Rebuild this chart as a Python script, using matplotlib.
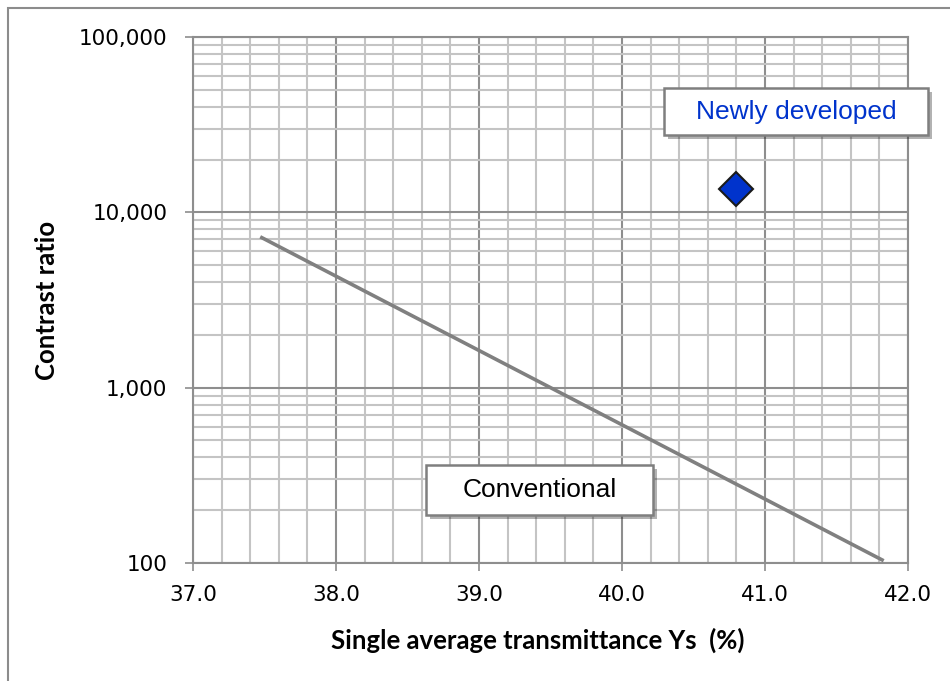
import matplotlib
matplotlib.use("Agg")
import matplotlib.pyplot as plt
import matplotlib.patches as mpatches
import matplotlib.patheffects as pe
from matplotlib.ticker import FixedLocator, FuncFormatter, LogLocator, NullFormatter

# ---- data ----
conv_x = [37.47, 41.83]
conv_y = [7250, 103]
new_x = [40.8]
new_y = [13500]
xticks = [37.0, 38.0, 39.0, 40.0, 41.0, 42.0]
yticks = [100, 1000, 10000, 100000]
label_conv = "Conventional"
label_new = "Newly developed"
xlabel = "Single average transmittance Ys  (%)"
ylabel = "Contrast ratio"

W, H = 950, 681
fig = plt.figure(figsize=(W / 100, H / 100), dpi=100)
fig.patch.set_facecolor("white")

# outer border
fig.patches.append(mpatches.Rectangle((8 / W, -0.1), 1.2, 1 - 8 / H + 0.1,
                                      transform=fig.transFigure, fill=False,
                                      edgecolor="#8c8c8c", linewidth=1.5))

L, R, T, B = 193, 908, 37, 563
ax = fig.add_axes([L / W, 1 - B / H, (R - L) / W, (B - T) / H])
ax.set_yscale("log")
ax.set_xlim(37.0, 42.0)
ax.set_ylim(100, 100000)

ax.xaxis.set_major_locator(FixedLocator(xticks))
ax.xaxis.set_minor_locator(FixedLocator([37 + 0.2 * i for i in range(26)]))
ax.yaxis.set_major_locator(FixedLocator(yticks))
ax.yaxis.set_minor_locator(LogLocator(base=10, subs=range(2, 10)))
ax.yaxis.set_minor_formatter(NullFormatter())
ax.xaxis.set_major_formatter(FuncFormatter(lambda v, p: f"{v:.1f}"))
ax.yaxis.set_major_formatter(FuncFormatter(lambda v, p: f"{int(round(v)):,}"))

ax.grid(which="minor", color="#c4c4c4", linewidth=1.5)
ax.grid(which="major", color="#8e8e8e", linewidth=1.5)
ax.set_axisbelow(True)
for s in ax.spines.values():
    s.set_color("#8e8e8e")
    s.set_linewidth(1.5)

ax.tick_params(which="major", direction="inout", length=11, width=1.2, color="#8e8e8e",
               labelsize=15.5, labelcolor="black")
ax.tick_params(axis="y", which="major", pad=13)
ax.tick_params(axis="x", which="major", pad=10)
ax.tick_params(which="minor", length=0)
for lab in ax.get_xticklabels() + ax.get_yticklabels():
    lab.set_fontfamily("DejaVu Sans")

ax.plot(conv_x, conv_y, color="#808080", linewidth=2.6, solid_capstyle="butt", zorder=3)
ax.plot(new_x, new_y, marker="D", linestyle="none", markersize=17,
        markerfacecolor="#0033cc", markeredgecolor="#1a1a1a", markeredgewidth=1.5,
        zorder=4, clip_on=False)

ax.set_xlabel(xlabel, fontfamily="Lato", fontweight="bold", fontsize=18.5)
ax.set_ylabel(ylabel, fontfamily="Lato", fontweight="bold", fontsize=18.5)
ax.xaxis.set_label_coords((538 - L) / (R - L), (B - 640) / (B - T))
ax.xaxis.label.set_verticalalignment("center")
ax.yaxis.set_label_coords((47 - L) / (R - L), 0.5)
ax.yaxis.label.set_verticalalignment("center")


def box(x0, y0, x1, y1, text, color):
    shadow = [pe.SimplePatchShadow(offset=(3, -3), shadow_rgbFace="#000000", alpha=0.3),
              pe.Normal()]
    rect = mpatches.Rectangle((x0 / W, 1 - y1 / H), (x1 - x0) / W, (y1 - y0) / H,
                              transform=fig.transFigure, facecolor="white",
                              edgecolor="#7f7f7f", linewidth=1.8, zorder=10,
                              path_effects=shadow)
    fig.patches.append(rect)
    fig.text((x0 + x1) / 2 / W, 1 - (y0 + y1) / 2 / H, text, ha="center", va="center",
             fontfamily="Liberation Sans", fontsize=19, color=color, zorder=11)


box(664, 88, 928, 135, label_new, "#0033cc")
box(426, 465, 653, 515, label_conv, "#000000")

fig.savefig("out.png", dpi=100, facecolor="white")
